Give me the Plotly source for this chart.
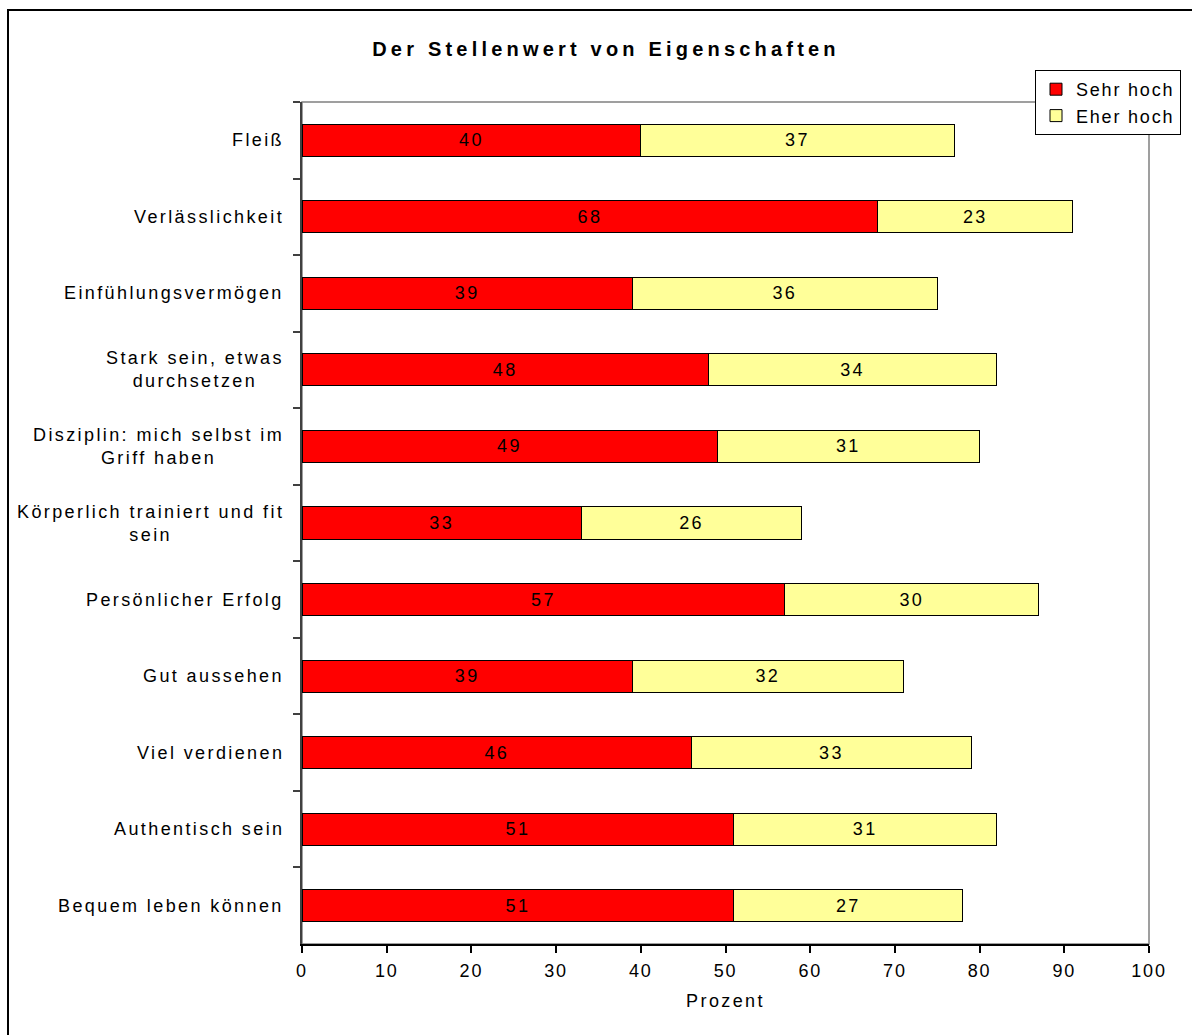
import plotly.graph_objects as go

categories = ["Fleiß", "Verlässlichkeit", "Einfühlungsvermögen",
              "Stark sein, etwas<br>durchsetzen",
              "Disziplin: mich selbst im<br>Griff haben",
              "Körperlich trainiert und fit<br>sein",
              "Persönlicher Erfolg", "Gut aussehen", "Viel verdienen",
              "Authentisch sein", "Bequem leben können"]
sehr_hoch = [40, 68, 39, 48, 49, 33, 57, 39, 46, 51, 51]
eher_hoch = [37, 23, 36, 34, 31, 26, 30, 32, 33, 31, 27]
x_ticks = [0, 10, 20, 30, 40, 50, 60, 70, 80, 90, 100]
series_names = ["Sehr hoch", "Eher hoch"]
title_text = "Der Stellenwert von Eigenschaften"
x_title = "Prozent"

FONT = "Liberation Sans, Arial, sans-serif"
FS = 18


def sp(txt, ls=2.4):
    """wrap each line in a span with the wide letter spacing of the original"""
    return "<br>".join('<span style="letter-spacing:%spx">%s</span>' % (ls, line)
                       for line in str(txt).split("<br>"))


fig = go.Figure()
fig.add_trace(go.Bar(
    y=categories, x=sehr_hoch, orientation="h", name=sp(series_names[0], 1.8),
    marker=dict(color="#FF0000", line=dict(color="#000000", width=1)),
    text=[sp(v) for v in sehr_hoch], textposition="inside", insidetextanchor="middle",
    textangle=0, constraintext="none", hoverinfo="skip",
    textfont=dict(family=FONT, size=FS, color="#000000"),
))
fig.add_trace(go.Bar(
    y=categories, x=eher_hoch, orientation="h", name=sp(series_names[1], 1.8),
    marker=dict(color="#FFFF99", line=dict(color="#000000", width=1)),
    text=[sp(v) for v in eher_hoch], textposition="inside", insidetextanchor="middle",
    textangle=0, constraintext="none", hoverinfo="skip",
    textfont=dict(family=FONT, size=FS, color="#000000"),
))

# category labels as annotations (centered multi-line)
for c in categories:
    fig.add_annotation(x=0, xref="paper", y=c, yref="y", text=sp(c),
                       showarrow=False, xanchor="right", yanchor="middle",
                       align="center", xshift=-16,
                       font=dict(family=FONT, size=FS, color="#000000"))

# plot area border (gray) and outer chart border
fig.add_shape(type="rect", xref="paper", yref="paper", x0=0, x1=1, y0=0, y1=1,
              line=dict(color="#808080", width=1.5), layer="below")
fig.add_shape(type="rect", xref="paper", yref="paper",
              x0=(8 - 302) / 847, x1=(1198 - 302) / 847,
              y0=(944 - 1045) / 842, y1=(944 - 10) / 842,
              line=dict(color="#000000", width=2), layer="below")

fig.update_layout(
    width=1192, height=1035,
    margin=dict(l=302, r=43, t=102, b=91, autoexpand=False),
    barmode="stack", bargap=0.58,
    plot_bgcolor="white", paper_bgcolor="white",
    font=dict(family=FONT, size=FS, color="#000000"),
    title=dict(text="<b>" + sp(title_text, 4.2) + "</b>",
               x=606 / 1192, xref="container", xanchor="center",
               y=1 - 49 / 1035, yref="container", yanchor="middle",
               font=dict(family=FONT, size=20, color="#000000")),
    legend=dict(x=(1181 - 302) / 847, y=(944 - 70) / 842,
                xanchor="right", yanchor="top",
                bgcolor="white", bordercolor="#000000", borderwidth=1,
                font=dict(family=FONT, size=FS), traceorder="normal",
                itemwidth=30, tracegroupgap=2),
    showlegend=True,
    uniformtext=dict(mode=False),
)
fig.update_xaxes(range=[0, 100], tickvals=x_ticks, ticktext=[sp(v, 1.8) for v in x_ticks],
                 showgrid=False, zeroline=False,
                 showline=True, linecolor="#000000", linewidth=1.5,
                 ticks="outside", ticklen=7, tickcolor="#000000", tickwidth=1.5,
                 tickfont=dict(family=FONT, size=FS), ticklabelstandoff=3,
                 title=dict(text=sp(x_title), font=dict(family=FONT, size=FS), standoff=14))
fig.update_yaxes(categoryorder="array", categoryarray=categories, autorange="reversed",
                 showgrid=False, zeroline=False,
                 showline=True, linecolor="#404040", linewidth=1.5,
                 ticks="outside", tickson="boundaries", ticklen=7,
                 tickcolor="#404040", tickwidth=1.5, showticklabels=False)

fig.write_html("out.html")
